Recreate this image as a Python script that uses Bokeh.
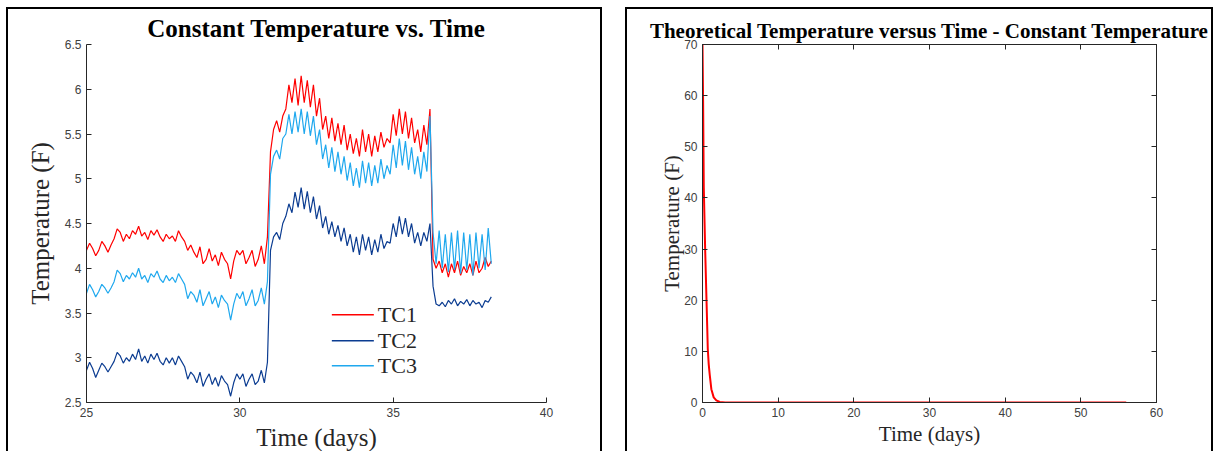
from bokeh.plotting import figure
from bokeh.models import (FixedTicker, CustomJSTickFormatter, LinearAxis, Range1d)
from bokeh.core.properties import value
from bokeh.layouts import row
from bokeh.embed import file_html
from bokeh.resources import INLINE

# ---------------- data ----------------
day_start = 25.0
day_step = 0.1

tc1 = [4.20, 4.28, 4.22, 4.14, 4.20, 4.30, 4.25, 4.18, 4.26, 4.33,
       4.44, 4.40, 4.30, 4.38, 4.33, 4.42, 4.38, 4.47, 4.36, 4.40,
       4.32, 4.42, 4.37, 4.43, 4.35, 4.30, 4.38, 4.33, 4.36, 4.30,
       4.42, 4.35, 4.30, 4.20, 4.26, 4.18, 4.12, 4.24, 4.05, 4.10,
       4.22, 4.08, 4.15, 4.03, 4.18, 4.10, 4.05, 3.88, 4.08, 4.20,
       4.15, 4.20, 4.05, 4.12, 4.20, 4.02, 4.10, 4.25, 4.05, 4.35,
       5.30, 5.55, 5.65, 5.52, 5.70, 5.78, 6.05, 5.85, 6.12, 5.82,
       6.15, 5.85, 6.10, 5.80, 6.05, 5.70, 5.90, 5.55, 5.70, 5.45,
       5.68, 5.42, 5.62, 5.38, 5.60, 5.32, 5.50, 5.28, 5.45, 5.25,
       5.55, 5.30, 5.50, 5.25, 5.48, 5.30, 5.52, 5.35, 5.45, 5.40,
       5.72, 5.48, 5.78, 5.50, 5.75, 5.45, 5.68, 5.40, 5.55, 5.30,
       5.60, 5.38, 5.78, 4.10, 4.00, 4.08, 3.95, 4.05, 3.90, 4.05,
       3.95, 4.08, 3.92, 4.02, 3.95, 4.05, 3.92, 4.08, 3.95, 4.00,
       4.12, 4.02, 4.08]

tc2 = [2.86, 2.95, 2.88, 2.78, 2.86, 2.94, 2.90, 2.84, 2.90, 2.96,
       3.06, 3.02, 2.94, 3.00, 2.96, 3.04, 2.98, 3.10, 2.96, 3.02,
       2.94, 3.04, 2.98, 3.05, 2.96, 2.92, 3.00, 2.94, 3.00, 2.92,
       3.02, 2.96, 2.90, 2.76, 2.84, 2.80, 2.72, 2.84, 2.68, 2.76,
       2.82, 2.70, 2.78, 2.68, 2.80, 2.74, 2.70, 2.57, 2.72, 2.82,
       2.76, 2.82, 2.68, 2.76, 2.82, 2.70, 2.74, 2.86, 2.72, 2.95,
       4.20, 4.35, 4.40, 4.32, 4.50, 4.58, 4.72, 4.62, 4.85, 4.68,
       4.90, 4.66, 4.86, 4.62, 4.80, 4.55, 4.70, 4.45, 4.58, 4.38,
       4.52, 4.35, 4.48, 4.30, 4.45, 4.25, 4.38, 4.18, 4.35, 4.15,
       4.38, 4.20, 4.35, 4.15, 4.32, 4.18, 4.38, 4.22, 4.30, 4.28,
       4.50, 4.35, 4.58, 4.38, 4.56, 4.35, 4.50, 4.28, 4.40, 4.25,
       4.40, 4.30, 4.50, 3.80, 3.60, 3.58, 3.62, 3.57, 3.64, 3.60,
       3.66, 3.58, 3.63, 3.60, 3.65, 3.58, 3.64, 3.60, 3.62, 3.56,
       3.64, 3.62, 3.68]

tc3 = [3.72, 3.82, 3.76, 3.68, 3.74, 3.82, 3.78, 3.72, 3.78, 3.85,
       3.98, 3.94, 3.85, 3.92, 3.88, 3.95, 3.90, 4.00, 3.88, 3.92,
       3.84, 3.94, 3.90, 3.97, 3.88, 3.84, 3.92, 3.86, 3.90, 3.84,
       3.94, 3.88, 3.82, 3.66, 3.74, 3.70, 3.62, 3.76, 3.58, 3.66,
       3.74, 3.60, 3.68, 3.56, 3.70, 3.64, 3.60, 3.42, 3.60, 3.72,
       3.66, 3.74, 3.58, 3.66, 3.76, 3.58, 3.64, 3.78, 3.60, 3.85,
       5.05, 5.25, 5.32, 5.22, 5.45, 5.50, 5.72, 5.50, 5.75, 5.52,
       5.78, 5.50, 5.75, 5.48, 5.70, 5.38, 5.55, 5.22, 5.38, 5.12,
       5.35, 5.08, 5.30, 5.05, 5.25, 4.98, 5.18, 4.92, 5.12, 4.90,
       5.20, 4.95, 5.18, 4.92, 5.15, 4.95, 5.22, 5.00, 5.15, 5.05,
       5.38, 5.12, 5.45, 5.15, 5.42, 5.10, 5.35, 5.05, 5.25, 5.00,
       5.30, 5.08, 5.70, 4.40, 4.05, 4.42, 4.00, 4.38, 3.96, 4.40,
       3.98, 4.42, 3.94, 4.40, 3.98, 4.38, 3.92, 4.40, 4.00, 4.38,
       3.98, 4.45, 4.05]

days = [round(day_start + day_step * i, 2) for i in range(len(tc1))]

series_names = ["TC1", "TC2", "TC3"]
series_colors = ["#ff0000", "#0b3c91", "#1fa8ee"]

left_x_ticks = [25, 30, 35, 40]
left_y_ticks = [2.5, 3.0, 3.5, 4.0, 4.5, 5.0, 5.5, 6.0, 6.5]

theory_t = [0, 0.08, 0.17, 0.35, 0.53, 0.62, 0.70, 0.82, 0.95, 1.17, 1.48, 1.83, 2.28, 3.0, 56.0]
theory_T = [70, 59, 42, 30, 20, 15, 10.4, 7.5, 5.5, 2.6, 1.0, 0.4, 0.1, 0.0, 0.0]

right_x_ticks = [0, 10, 20, 30, 40, 50, 60]
right_y_ticks = [0, 10, 20, 30, 40, 50, 60, 70]

# ---------------- styling / placement constants ----------------
AX = "#262626"
TICK_FONT = "Liberation Sans"
SERIF = "Liberation Serif"
fmt = CustomJSTickFormatter(code="return tick.toString();")
blank_fmt = CustomJSTickFormatter(code="return '';")
panel_style = {"border-left": "2px solid black", "border-top": "2px solid black",
               "border-right": "2px solid black"}

# legend key placement (in the left panel's axis units)
LEG_KEY_X0 = 33.0
LEG_KEY_X1 = 34.37
LEG_TEXT_X = 34.50
LEG_ROWS_Y = [3.48, 3.19, 2.91]


def style_axis(ax, label_size):
    ax.axis_line_color = AX
    ax.major_tick_line_color = AX
    ax.major_tick_in = 5
    ax.major_tick_out = 0
    ax.minor_tick_line_color = None
    ax.major_label_text_font = TICK_FONT
    ax.major_label_text_font_size = "12px"
    ax.major_label_text_color = "#404040"
    ax.major_label_standoff = 5
    ax.axis_label_text_font = SERIF
    ax.axis_label_text_font_style = "normal"
    ax.axis_label_text_font_size = label_size
    ax.axis_label_text_color = AX


# ---------------- left panel ----------------
p1 = figure(width=596, height=444, x_range=Range1d(25, 40), y_range=Range1d(2.5, 6.5),
            output_backend="svg", toolbar_location=None,
            min_border_left=78, min_border_right=58, min_border_top=35, min_border_bottom=51,
            title="Constant Temperature vs. Time")
p1.styles = panel_style
p1.title.text_font = SERIF
p1.title.text_font_size = "25px"
p1.title.text_font_style = "bold"
p1.title.align = "center"
p1.title.text_color = "black"
p1.title.standoff = 6
p1.outline_line_color = None
p1.grid.visible = False

for vals, col in zip([tc1, tc2, tc3], series_colors):
    p1.line(days, vals, line_color=col, line_width=1.2)

# legend: key lines + labels
p1.segment(x0=[LEG_KEY_X0] * 3, y0=LEG_ROWS_Y, x1=[LEG_KEY_X1] * 3, y1=LEG_ROWS_Y,
           line_color=series_colors, line_width=1.5)
p1.text(x=[LEG_TEXT_X] * 3, y=LEG_ROWS_Y, text=series_names,
        text_font=value(SERIF), text_font_size=value("22px"),
        text_baseline="middle", text_align="left", text_color=AX)

p1.xaxis.ticker = FixedTicker(ticks=left_x_ticks)
p1.yaxis.ticker = FixedTicker(ticks=left_y_ticks)
p1.xaxis.formatter = fmt
p1.yaxis.formatter = fmt
p1.xaxis.axis_label = "Time (days)"
p1.yaxis.axis_label = "Temperature (F)"
for ax in p1.xaxis + p1.yaxis:
    style_axis(ax, "25px")
p1.xaxis.axis_label_standoff = 4
p1.yaxis.axis_label_standoff = 8

# ---------------- right panel ----------------
p2 = figure(width=588, height=444, x_range=Range1d(0, 60), y_range=Range1d(0, 70),
            output_backend="svg", toolbar_location=None,
            min_border_left=75, min_border_right=59, min_border_top=30, min_border_bottom=49,
            title="Theoretical Temperature versus Time - Constant Temperature")
p2.styles = panel_style
p2.title.text_font = SERIF
p2.title.text_font_size = "21px"
p2.title.text_font_style = "bold"
p2.title.align = "center"
p2.title.text_color = "black"
p2.title.standoff = 3
p2.outline_line_color = AX
p2.grid.visible = False

p2.line(theory_t, theory_T, line_color="#ff0000", line_width=2)

p2.add_layout(LinearAxis(), "right")
p2.add_layout(LinearAxis(), "above")
for ax in p2.xaxis:
    ax.ticker = FixedTicker(ticks=right_x_ticks)
for ax in p2.yaxis:
    ax.ticker = FixedTicker(ticks=right_y_ticks)
p2.below[0].formatter = fmt
p2.left[0].formatter = fmt
p2.right[0].formatter = blank_fmt
p2.above[0].formatter = blank_fmt
p2.below[0].axis_label = "Time (days)"
p2.left[0].axis_label = "Temperature (F)"
for ax in [p2.below[0], p2.left[0], p2.right[0], p2.above[0]]:
    style_axis(ax, "21px")
p2.right[0].major_label_standoff = 0
p2.above[0].major_label_standoff = 0
p2.below[0].axis_label_standoff = 2
p2.left[0].axis_label_standoff = -3

layout = row(p1, p2, spacing=23, margin=(7, 0, 0, 6))
open("out.html", "w").write(file_html(layout, INLINE))
